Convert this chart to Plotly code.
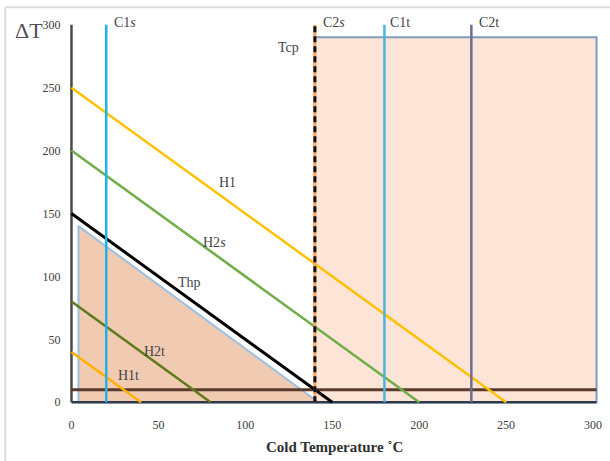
import plotly.graph_objects as go

# ---------------- data ----------------
hot_names = ["H1", "H2s", "Thp", "H2t", "H1t"]
hot_dt_at_zero = [250, 200, 150, 80, 40]      # ΔT where each line meets T = 0
hot_t_at_zero = [250, 200, 150, 80, 40]       # T where each line meets ΔT = 0
hot_colors = ["#FFC000", "#70AD47", "#000000", "#5E7A1C", "#FFB000"]

cold_names = ["C1s", "C1t", "C2t"]
cold_temps = [20, 180, 230]
cold_colors = ["#1EB2EE", "#4FB3DF", "#6A6E94"]

tcp_temp = 140          # C2s / Tcp
min_dt = 10
dt_max = 300

tri_x = [4, 4, 142, 4]
tri_y = [0, 140, 0, 0]
rect_x = [140, 140, 302, 302, 140]
rect_y = [0, 290, 290, 0, 0]

x_ticks = [0, 50, 100, 150, 200, 250, 300]
y_ticks = [0, 50, 100, 150, 200, 250, 300]

SERIF = "Liberation Serif"
fig = go.Figure()

# filled regions
fig.add_trace(go.Scatter(x=rect_x, y=rect_y, mode="lines", fill="toself",
                         fillcolor="#FCE5D7", line=dict(color="#7F9CC0", width=2),
                         hoverinfo="skip"))
fig.add_trace(go.Scatter(x=tri_x, y=tri_y, mode="lines", fill="toself",
                         fillcolor="#F0CBB2", line=dict(color="#9CC0E2", width=2),
                         hoverinfo="skip"))

# axis-like lines
fig.add_trace(go.Scatter(x=[0, 0], y=[0, dt_max], mode="lines",
                         line=dict(color="#4A4A4A", width=2.5)))
fig.add_trace(go.Scatter(x=[0, 302], y=[0, 0], mode="lines",
                         line=dict(color="#2E3A4C", width=2.5)))
fig.add_trace(go.Scatter(x=[0, 302], y=[min_dt, min_dt], mode="lines",
                         line=dict(color="#5A3A2A", width=3)))

# hot lines
for name, y0, x0, c in zip(hot_names, hot_dt_at_zero, hot_t_at_zero, hot_colors):
    fig.add_trace(go.Scatter(x=[0, x0], y=[y0, 0], mode="lines",
                             line=dict(color=c, width=3 if name == "Thp" else 2.5)))

# cold lines
for name, t, c in zip(cold_names, cold_temps, cold_colors):
    fig.add_trace(go.Scatter(x=[t, t], y=[0, dt_max], mode="lines",
                             line=dict(color=c, width=2.5)))

# Tcp dashed line
fig.add_trace(go.Scatter(x=[tcp_temp, tcp_temp], y=[0, dt_max], mode="lines",
                         line=dict(color="#F4A460", width=3)))
fig.add_trace(go.Scatter(x=[tcp_temp, tcp_temp], y=[0, dt_max], mode="lines",
                         line=dict(color="#111111", width=3, dash="6px,4px")))

# labels
lab_font = dict(family=SERIF, size=14, color="#454545")
labels = [
    ("C1<i>s</i>", cold_temps[0] + 11, 302),
    ("C2<i>s</i>", tcp_temp + 11, 302),
    ("C1t", cold_temps[1] + 9, 302),
    ("C2t", cold_temps[2] + 10, 302),
    ("Tcp", tcp_temp - 15, 282),
    ("H1", 90, 175),
    ("H2<i>s</i>", 82, 127),
    ("Thp", 68, 95),
    ("H2t", 48, 40),
    ("H1t", 33, 21),
]
for txt, x, y in labels:
    fig.add_annotation(x=x, y=y, text=txt, showarrow=False, font=lab_font)

fig.add_annotation(xref="paper", yref="paper", x=-0.104, y=1.012, text="ΔT",
                   showarrow=False, font=dict(family=SERIF, size=22, color="#505050"))

fig.add_annotation(xref="paper", yref="paper", x=0.5, y=-0.106, yanchor="middle",
                   text="<b>Cold Temperature ˚C</b>", showarrow=False,
                   font=dict(family=SERIF, size=15, color="#303030"))

# outer frame lines
fig.add_shape(type="line", xref="paper", yref="paper", x0=-0.118, x1=1.05,
              y0=1.036, y1=1.036, line=dict(color="#DDDDDD", width=2))
fig.add_shape(type="line", xref="paper", yref="paper", x0=-0.118, x1=-0.118,
              y0=1.036, y1=-0.2, line=dict(color="#DDDDDD", width=2))

fig.update_layout(
    width=610, height=461,
    margin=dict(l=68, r=10, t=21, b=55),
    paper_bgcolor="white", plot_bgcolor="white",
    showlegend=False,
    font=dict(family=SERIF, color="#404040"),
    xaxis=dict(range=[-2, 304], tickvals=x_ticks, showgrid=False, zeroline=False,
               showline=False, ticks="outside", ticklen=8, tickcolor="rgba(0,0,0,0)",
               tickprefix="<b>", ticksuffix="</b>", automargin=False,
               tickfont=dict(family=SERIF, size=12, color="#404040")),
    yaxis=dict(range=[-3, 303], tickvals=y_ticks, showgrid=False, zeroline=False,
               showline=False, ticks="outside", ticklen=4, tickcolor="rgba(0,0,0,0)",
               tickprefix="<b>", ticksuffix="</b>", automargin=False,
               tickfont=dict(family=SERIF, size=12, color="#404040")),
)

fig.write_html("out.html")
